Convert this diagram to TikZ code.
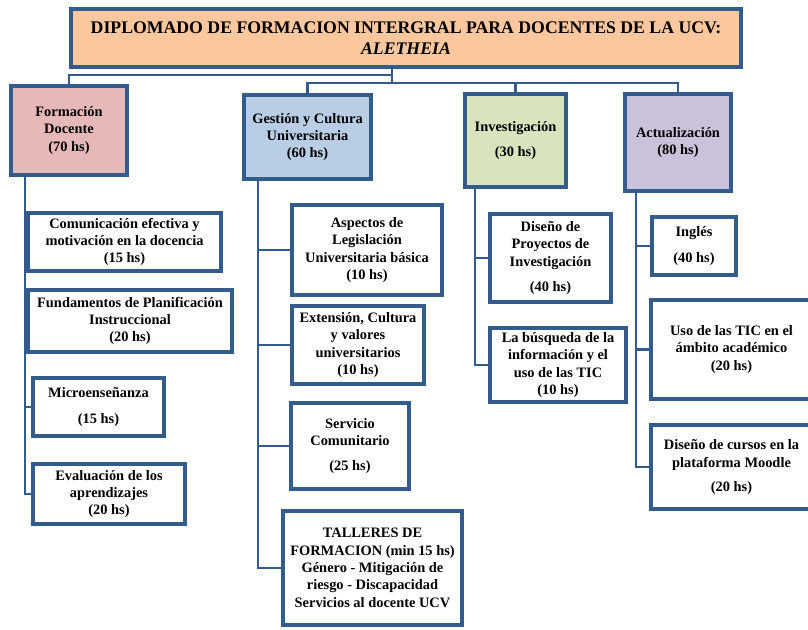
\documentclass[tikz,border=0pt]{standalone}
\usepackage{fontspec}
\setmainfont{Liberation Serif}
\usetikzlibrary{shadows}
\definecolor{bordc}{HTML}{335C8C}
\definecolor{titlefill}{HTML}{FAC79E}
\definecolor{pinkfill}{HTML}{E6B9B8}
\definecolor{bluefill}{HTML}{B9CDE5}
\definecolor{greenfill}{HTML}{D7E4BD}
\definecolor{lavfill}{HTML}{CCC1DA}
\begin{document}
\begin{tikzpicture}[x=0.75pt,y=-0.75pt,
  wh/.style 2 args={minimum width=#1*0.75pt, minimum height=#2*0.75pt},
  box/.style={draw=bordc, line width=2.6pt, fill=white, inner sep=1pt, align=center,
    font=\bfseries\fontsize{10.8}{13}\selectfont,
    drop shadow={shadow xshift=1.4pt, shadow yshift=-1.4pt, opacity=0.3, fill=black}},
  conn/.style={draw=bordc, line width=1.8pt}]
\useasboundingbox (0,0) rectangle (808,630);

\coordinate (tj1) at (392,75);
\coordinate (tj2) at (392,83);
\coordinate (fdsp) at (25,0);
\coordinate (gcsp) at (258,0);
\coordinate (invsp) at (475,0);
\coordinate (actsp) at (636,0);

% title
\node[box, fill=titlefill, wh={670}{58}, font=\bfseries\fontsize{13.3}{16}\selectfont] (title) at (406,38)
  {DIPLOMADO DE FORMACION INTERGRAL PARA DOCENTES DE LA UCV:\\ \itshape ALETHEIA};

% category boxes
\node[box, fill=pinkfill, wh={116}{89}] (fd) at (69,130.5) {Formación\\Docente\\(70 hs)};
\node[box, fill=bluefill, wh={127}{84}] (gc) at (307.5,137) {Gestión y Cultura\\Universitaria\\(60 hs)};
\node[box, fill=greenfill, wh={101}{93}] (inv) at (515.5,140.5) {Investigación\\[6pt](30 hs)};
\node[box, fill=lavfill, wh={106}{97}] (act) at (678,142.5) {Actualización\\(80 hs)};

% Formación children
\node[box, wh={193}{58}] (comm) at (124.5,242) {Comunicación efectiva y\\motivación en la docencia\\(15 hs)};
\node[box, wh={204}{62}] (fund) at (130,321) {Fundamentos de Planificación\\Instruccional\\(20 hs)};
\node[box, wh={131}{58}] (micro) at (98.5,407) {Microenseñanza\\[6pt](15 hs)};
\node[box, wh={152}{60}] (eval) at (109,494) {Evaluación de los\\aprendizajes\\(20 hs)};

% Gestión children
\node[box, wh={150}{90}] (asp) at (367,250) {Aspectos de\\Legislación\\Universitaria básica\\(10 hs)};
\node[box, wh={132}{78}] (ext) at (358,345) {Extensión, Cultura\\y valores\\universitarios\\(10 hs)};
\node[box, wh={118}{86}] (serv) at (350,446) {Servicio\\Comunitario\\[6pt](25 hs)};
\node[box, wh={179}{114}] (tall) at (372.5,568) {TALLERES DE\\FORMACION (min 15 hs)\\Género - Mitigación de\\riesgo - Discapacidad\\Servicios al docente UCV};

% Investigación children
\node[box, wh={121}{88}] (disp) at (550.5,258) {Diseño de\\Proyectos de\\Investigación\\[6pt](40 hs)};
\node[box, wh={136}{74}] (busq) at (558,365) {La búsqueda de la\\información y el\\uso de las TIC\\(10 hs)};

% Actualización children
\node[box, wh={84}{58}] (ingl) at (694,246) {Inglés\\[6pt](40 hs)};
\node[box, wh={161}{99}] (uso) at (731.5,349.5) {Uso de las TIC en el\\ámbito académico\\(20 hs)};
\node[box, wh={161}{84}] (disc) at (731.5,467) {Diseño de cursos en la\\plataforma Moodle\\[5pt](20 hs)};

% top connectors
\draw[conn] (title.south -| tj1) -- (tj2);
\draw[conn] (fd.north) |- (tj1);
\draw[conn] (gc.north) |- (tj2);
\draw[conn] (inv.north) |- (tj2);
\draw[conn] (act.north) |- (tj2);

% spines
\foreach \c in {comm,fund,micro,eval}{\draw[conn] (fd.south -| fdsp) |- (\c.west);}
\foreach \c in {asp,ext,serv,tall}{\draw[conn] (gc.south -| gcsp) |- (\c.west);}
\foreach \c in {disp,busq}{\draw[conn] (inv.south -| invsp) |- (\c.west);}
\foreach \c in {ingl,uso,disc}{\draw[conn] (act.south -| actsp) |- (\c.west);}
\end{tikzpicture}
\end{document}
